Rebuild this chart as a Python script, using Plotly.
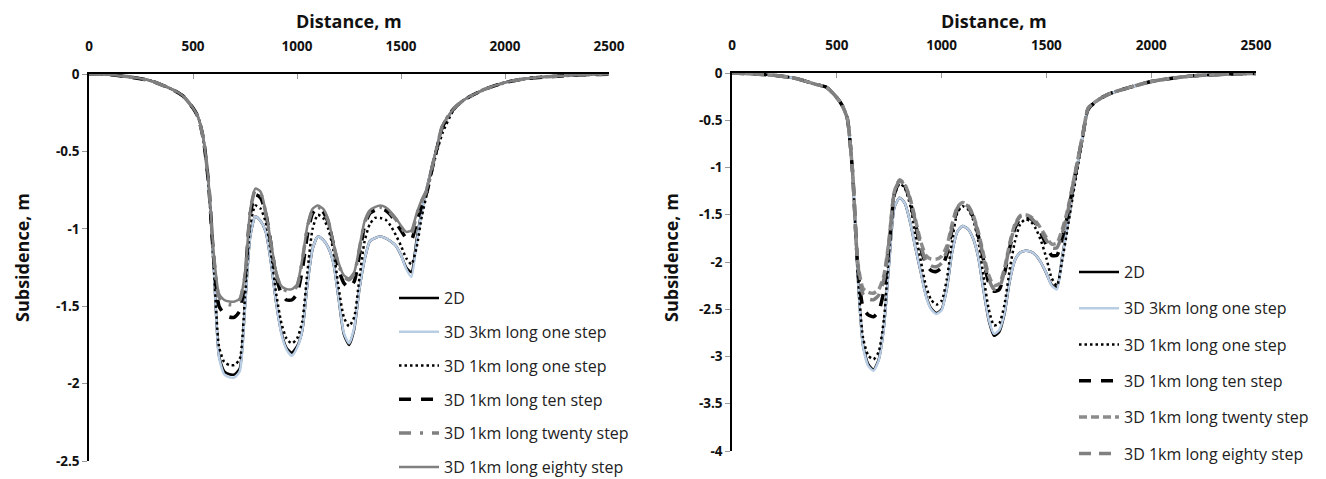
import plotly.graph_objects as go

# ---------------- data ----------------
distance = [0, 100, 200, 300, 400, 450, 500, 525, 550,
            575, 600, 625, 650, 675, 700, 725, 750, 775, 800,
            825, 850, 875, 900, 925, 950, 975, 1000, 1025, 1050, 1075, 1100,
            1125, 1150, 1175, 1200, 1225, 1250, 1275, 1300, 1325, 1350, 1375, 1400,
            1425, 1450, 1475, 1500, 1525, 1550, 1575, 1600, 1625, 1650, 1675, 1700,
            1750, 1800, 1900, 2000, 2100, 2200, 2300, 2400, 2500]

# Left panel
left_2d = [0, -0.005, -0.02, -0.045, -0.10, -0.14, -0.22, -0.28, -0.42,
           -0.72, -1.25, -1.82, -1.92, -1.94, -1.94, -1.90, -1.50, -1.05, -0.92,
           -0.95, -1.02, -1.22, -1.48, -1.67, -1.77, -1.80, -1.76, -1.66, -1.36, -1.13, -1.05,
           -1.07, -1.12, -1.22, -1.45, -1.68, -1.75, -1.65, -1.39, -1.20, -1.08, -1.06, -1.05,
           -1.06, -1.08, -1.11, -1.17, -1.25, -1.28, -1.07, -0.88, -0.73, -0.59, -0.46, -0.34,
           -0.23, -0.17, -0.10, -0.055, -0.03, -0.018, -0.01, -0.005, -0.002]
left_3km_one = [0, -0.005, -0.02, -0.045, -0.10, -0.14, -0.22, -0.28, -0.42,
                -0.72, -1.25, -1.83, -1.94, -1.96, -1.96, -1.92, -1.51, -1.05, -0.92,
                -0.95, -1.02, -1.22, -1.48, -1.68, -1.78, -1.82, -1.77, -1.66, -1.36, -1.13, -1.05,
                -1.07, -1.12, -1.22, -1.45, -1.67, -1.74, -1.64, -1.39, -1.20, -1.08, -1.06, -1.05,
                -1.06, -1.08, -1.11, -1.17, -1.26, -1.31, -1.09, -0.89, -0.73, -0.59, -0.46, -0.34,
                -0.23, -0.17, -0.10, -0.055, -0.03, -0.018, -0.01, -0.005, -0.002]
left_1km_one = [0, -0.005, -0.02, -0.045, -0.10, -0.14, -0.22, -0.28, -0.42,
                -0.72, -1.24, -1.76, -1.86, -1.88, -1.88, -1.84, -1.44, -0.98, -0.85,
                -0.87, -0.96, -1.16, -1.42, -1.61, -1.71, -1.74, -1.71, -1.60, -1.28, -1.00, -0.91,
                -0.93, -1.00, -1.14, -1.38, -1.57, -1.63, -1.57, -1.32, -1.08, -0.97, -0.93, -0.93,
                -0.94, -0.98, -1.04, -1.11, -1.19, -1.23, -1.12, -0.92, -0.77, -0.62, -0.49, -0.38,
                -0.24, -0.17, -0.10, -0.055, -0.03, -0.018, -0.01, -0.005, -0.002]
left_1km_ten = [0, -0.005, -0.02, -0.045, -0.10, -0.14, -0.22, -0.28, -0.42,
                -0.71, -1.20, -1.50, -1.55, -1.57, -1.57, -1.53, -1.32, -0.91, -0.78,
                -0.80, -0.90, -1.10, -1.31, -1.42, -1.46, -1.46, -1.42, -1.27, -1.04, -0.90, -0.87,
                -0.89, -0.96, -1.10, -1.26, -1.35, -1.38, -1.34, -1.17, -0.98, -0.90, -0.88, -0.87,
                -0.88, -0.91, -0.96, -1.01, -1.06, -1.07, -0.96, -0.85, -0.76, -0.61, -0.47, -0.34,
                -0.23, -0.17, -0.10, -0.055, -0.03, -0.018, -0.01, -0.005, -0.002]
left_1km_twenty = [0, -0.005, -0.02, -0.045, -0.10, -0.14, -0.22, -0.28, -0.42,
                   -0.70, -1.18, -1.44, -1.48, -1.49, -1.49, -1.46, -1.30, -0.89, -0.75,
                   -0.77, -0.90, -1.10, -1.29, -1.38, -1.40, -1.40, -1.37, -1.21, -0.99, -0.88, -0.86,
                   -0.88, -0.95, -1.10, -1.23, -1.31, -1.33, -1.29, -1.13, -0.96, -0.89, -0.87, -0.86,
                   -0.87, -0.90, -0.94, -0.99, -1.03, -1.03, -0.91, -0.82, -0.75, -0.60, -0.46, -0.33,
                   -0.23, -0.17, -0.10, -0.055, -0.03, -0.018, -0.01, -0.005, -0.002]
left_1km_eighty = [0, -0.005, -0.02, -0.045, -0.10, -0.14, -0.22, -0.28, -0.42,
                   -0.70, -1.16, -1.42, -1.46, -1.47, -1.47, -1.45, -1.29, -0.88, -0.74,
                   -0.76, -0.89, -1.09, -1.28, -1.37, -1.39, -1.39, -1.36, -1.20, -0.98, -0.87, -0.85,
                   -0.87, -0.94, -1.09, -1.22, -1.30, -1.32, -1.28, -1.12, -0.95, -0.88, -0.86, -0.85,
                   -0.86, -0.89, -0.93, -0.98, -1.02, -1.01, -0.90, -0.81, -0.74, -0.59, -0.46, -0.33,
                   -0.23, -0.17, -0.10, -0.055, -0.03, -0.018, -0.01, -0.005, -0.002]

# Right panel
right_2d = [0, -0.01, -0.025, -0.055, -0.12, -0.15, -0.26, -0.34, -0.48,
            -1.05, -2.15, -2.88, -3.08, -3.14, -3.03, -2.68, -2.00, -1.42, -1.32,
            -1.38, -1.58, -1.85, -2.10, -2.35, -2.49, -2.54, -2.50, -2.28, -1.90, -1.68, -1.62,
            -1.65, -1.75, -1.95, -2.30, -2.62, -2.78, -2.74, -2.55, -2.20, -1.98, -1.90, -1.88,
            -1.89, -1.93, -2.01, -2.12, -2.24, -2.27, -1.95, -1.62, -1.28, -0.95, -0.64, -0.38,
            -0.28, -0.22, -0.15, -0.09, -0.055, -0.03, -0.018, -0.01, -0.005]
right_3km_one = [0, -0.01, -0.025, -0.055, -0.12, -0.15, -0.26, -0.34, -0.48,
                 -1.05, -2.15, -2.89, -3.10, -3.15, -3.04, -2.69, -2.00, -1.42, -1.32,
                 -1.38, -1.58, -1.85, -2.10, -2.36, -2.50, -2.55, -2.51, -2.28, -1.90, -1.68, -1.62,
                 -1.65, -1.75, -1.95, -2.30, -2.61, -2.76, -2.72, -2.54, -2.20, -1.98, -1.90, -1.88,
                 -1.89, -1.93, -2.01, -2.12, -2.25, -2.29, -1.96, -1.62, -1.28, -0.95, -0.64, -0.38,
                 -0.28, -0.22, -0.15, -0.09, -0.055, -0.03, -0.018, -0.01, -0.005]
right_1km_one = [0, -0.01, -0.025, -0.055, -0.12, -0.15, -0.26, -0.34, -0.48,
                 -1.05, -2.12, -2.80, -2.99, -3.03, -2.95, -2.60, -1.88, -1.30, -1.17,
                 -1.22, -1.40, -1.70, -1.98, -2.25, -2.40, -2.45, -2.41, -2.18, -1.78, -1.48, -1.41,
                 -1.44, -1.55, -1.78, -2.15, -2.50, -2.67, -2.65, -2.45, -2.08, -1.78, -1.60, -1.55,
                 -1.57, -1.65, -1.78, -1.96, -2.17, -2.25, -1.99, -1.66, -1.32, -0.99, -0.67, -0.39,
                 -0.28, -0.22, -0.15, -0.09, -0.055, -0.03, -0.018, -0.01, -0.005]
right_1km_ten = [0, -0.01, -0.025, -0.055, -0.12, -0.15, -0.26, -0.34, -0.48,
                 -1.04, -2.05, -2.48, -2.56, -2.58, -2.52, -2.30, -1.82, -1.28, -1.15,
                 -1.20, -1.36, -1.60, -1.85, -2.02, -2.09, -2.10, -2.06, -1.92, -1.66, -1.45, -1.39,
                 -1.42, -1.52, -1.72, -1.98, -2.22, -2.31, -2.29, -2.12, -1.85, -1.64, -1.54, -1.52,
                 -1.54, -1.60, -1.70, -1.82, -1.93, -1.93, -1.75, -1.52, -1.22, -0.93, -0.64, -0.38,
                 -0.28, -0.22, -0.15, -0.09, -0.055, -0.03, -0.018, -0.01, -0.005]
right_1km_twenty = [0, -0.01, -0.025, -0.055, -0.12, -0.15, -0.26, -0.34, -0.48,
                    -1.04, -2.00, -2.28, -2.32, -2.33, -2.29, -2.14, -1.75, -1.25, -1.13,
                    -1.18, -1.33, -1.55, -1.78, -1.93, -1.97, -1.97, -1.94, -1.83, -1.60, -1.42, -1.37,
                    -1.40, -1.50, -1.68, -1.92, -2.14, -2.25, -2.23, -2.07, -1.80, -1.60, -1.51, -1.50,
                    -1.52, -1.57, -1.65, -1.74, -1.81, -1.80, -1.66, -1.46, -1.19, -0.91, -0.63, -0.37,
                    -0.28, -0.22, -0.15, -0.09, -0.055, -0.03, -0.018, -0.01, -0.005]
right_1km_eighty = [0, -0.01, -0.025, -0.055, -0.12, -0.15, -0.26, -0.34, -0.48,
                    -1.04, -2.02, -2.34, -2.39, -2.40, -2.35, -2.18, -1.77, -1.26, -1.14,
                    -1.19, -1.34, -1.57, -1.82, -1.99, -2.04, -2.05, -2.01, -1.88, -1.63, -1.43, -1.38,
                    -1.41, -1.51, -1.70, -1.95, -2.18, -2.29, -2.27, -2.10, -1.82, -1.62, -1.52, -1.51,
                    -1.53, -1.59, -1.67, -1.77, -1.85, -1.85, -1.70, -1.49, -1.20, -0.92, -0.64, -0.37,
                    -0.28, -0.22, -0.15, -0.09, -0.055, -0.03, -0.018, -0.01, -0.005]

series_names = ["2D", "3D 3km long one step", "3D 1km long one step",
                "3D 1km long ten step", "3D 1km long twenty step", "3D 1km long eighty step"]

x_tickvals = [0, 500, 1000, 1500, 2000, 2500]
x_ticktext = ["0", "500", "1000", "1500", "2000", "2500"]
left_tickvals = [0, -0.5, -1, -1.5, -2, -2.5]
left_ticktext = ["0", "-0.5", "-1", "-1.5", "-2", "-2.5"]
right_tickvals = [0, -0.5, -1, -1.5, -2, -2.5, -3, -3.5, -4]
right_ticktext = ["0", "-0.5", "-1", "-1.5", "-2", "-2.5", "-3", "-3.5", "-4"]

# ---------------- layout helpers ----------------
PAGE_W, PAGE_H = 1326, 479
OFF = 8                      # default body margin of the html page
W, H = PAGE_W - OFF, PAGE_H - OFF


def px(p):   # page x pixel -> paper fraction
    return (p - OFF) / W


def py(p):   # page y pixel -> paper fraction
    return 1 - (p - OFF) / H


FONT = "Open Sans"
BLACK = "#000000"
BLUE = "#b9cde5"
GRAY = "#808080"

left_styles = [
    dict(color=BLACK, width=2.5, dash="solid"),
    dict(color=BLUE, width=2.5, dash="solid"),
    dict(color=BLACK, width=2.5, dash="2.5px,3px"),
    dict(color=BLACK, width=3.5, dash="12px,10px"),
    dict(color=GRAY, width=3.5, dash="12px,9px,3px,9px"),
    dict(color=GRAY, width=2.5, dash="solid"),
]
right_styles = [
    dict(color=BLACK, width=2.5, dash="solid"),
    dict(color=BLUE, width=2.5, dash="solid"),
    dict(color=BLACK, width=2.5, dash="2.5px,3px"),
    dict(color=BLACK, width=3.5, dash="12px,10px"),
    dict(color="#8c8c8c", width=3.5, dash="8px,4px"),
    dict(color=GRAY, width=3.5, dash="12px,8px"),
]

fig = go.Figure()

left_data = [left_2d, left_3km_one, left_1km_one, left_1km_ten, left_1km_twenty, left_1km_eighty]
right_data = [right_2d, right_3km_one, right_1km_one, right_1km_ten, right_1km_twenty, right_1km_eighty]

for i, (name, ys, st) in enumerate(zip(series_names, left_data, left_styles)):
    fig.add_trace(go.Scatter(
        x=distance, y=ys, name=name, mode="lines",
        line=dict(color=st["color"], width=st["width"], dash=st["dash"], shape="spline", smoothing=0.6),
        xaxis="x", yaxis="y", legend="legend", legendgroup=f"L{i}",
    ))

for i, (name, ys, st) in enumerate(zip(series_names, right_data, right_styles)):
    fig.add_trace(go.Scatter(
        x=distance, y=ys, name=name, mode="lines",
        line=dict(color=st["color"], width=st["width"], dash=st["dash"], shape="spline", smoothing=0.6),
        xaxis="x2", yaxis="y2", legend="legend2", legendgroup=f"R{i}",
    ))

tick_font = dict(family=FONT, size=13.5, color="#111", weight=700)


def bold(labels):
    return ["<b>" + t + "</b>" for t in labels]


def xaxis_cfg(dom, anchor):
    return dict(
        domain=dom, anchor=anchor, side="top", range=[0, 2500],
        tickvals=x_tickvals, ticktext=bold(x_ticktext), tickfont=tick_font,
        ticks="inside", ticklen=5, tickcolor="#999", tickwidth=1,
        ticklabelstandoff=16, automargin=False,
        showline=True, linecolor=BLACK, linewidth=1.5,
        showgrid=False, zeroline=False, layer="below traces", fixedrange=True,
    )


def yaxis_cfg(dom, anchor, rng, tv, tt):
    return dict(
        domain=dom, anchor=anchor, range=rng,
        tickvals=tv, ticktext=bold(tt), tickfont=tick_font,
        ticks="outside", ticklen=5, tickcolor="#999", tickwidth=1,
        automargin=False,
        showline=True, linecolor=BLACK, linewidth=1.5,
        showgrid=False, zeroline=False, layer="below traces", fixedrange=True,
    )


title_font = dict(family=FONT, size=18, color="#111")
legend_font = dict(family=FONT, size=16, color="#222")

fig.update_layout(
    width=W, height=H,
    margin=dict(l=0, r=0, t=0, b=0, autoexpand=False),
    paper_bgcolor="white", plot_bgcolor="white",
    xaxis=xaxis_cfg([px(89), px(609)], "y"),
    yaxis=yaxis_cfg([py(461), py(74)], "x", [-2.5, 0], left_tickvals, left_ticktext),
    xaxis2=xaxis_cfg([px(732), px(1256)], "y2"),
    yaxis2=yaxis_cfg([py(451), py(73)], "x2", [-4, 0], right_tickvals, right_ticktext),
    legend=dict(
        x=px(394), y=py(281), xanchor="left", yanchor="top",
        bgcolor="rgba(0,0,0,0)", font=legend_font,
        itemwidth=40, traceorder="grouped", tracegroupgap=10,
    ),
    legend2=dict(
        x=px(1074), y=py(255), xanchor="left", yanchor="top",
        bgcolor="rgba(0,0,0,0)", font=legend_font,
        itemwidth=40, traceorder="grouped", tracegroupgap=12.5,
    ),
    annotations=[
        dict(text="<b>Distance, m</b>", x=px(349), y=py(21), xref="paper", yref="paper",
             xanchor="center", yanchor="middle", showarrow=False, font=title_font),
        dict(text="<b>Distance, m</b>", x=px(994), y=py(21), xref="paper", yref="paper",
             xanchor="center", yanchor="middle", showarrow=False, font=title_font),
        dict(text="<b>Subsidence, m</b>", x=px(22), y=py(258), xref="paper", yref="paper",
             xanchor="center", yanchor="middle", showarrow=False, textangle=-90, font=title_font),
        dict(text="<b>Subsidence, m</b>", x=px(671), y=py(258), xref="paper", yref="paper",
             xanchor="center", yanchor="middle", showarrow=False, textangle=-90, font=title_font),
    ],
)

fig.write_html("out.html")
